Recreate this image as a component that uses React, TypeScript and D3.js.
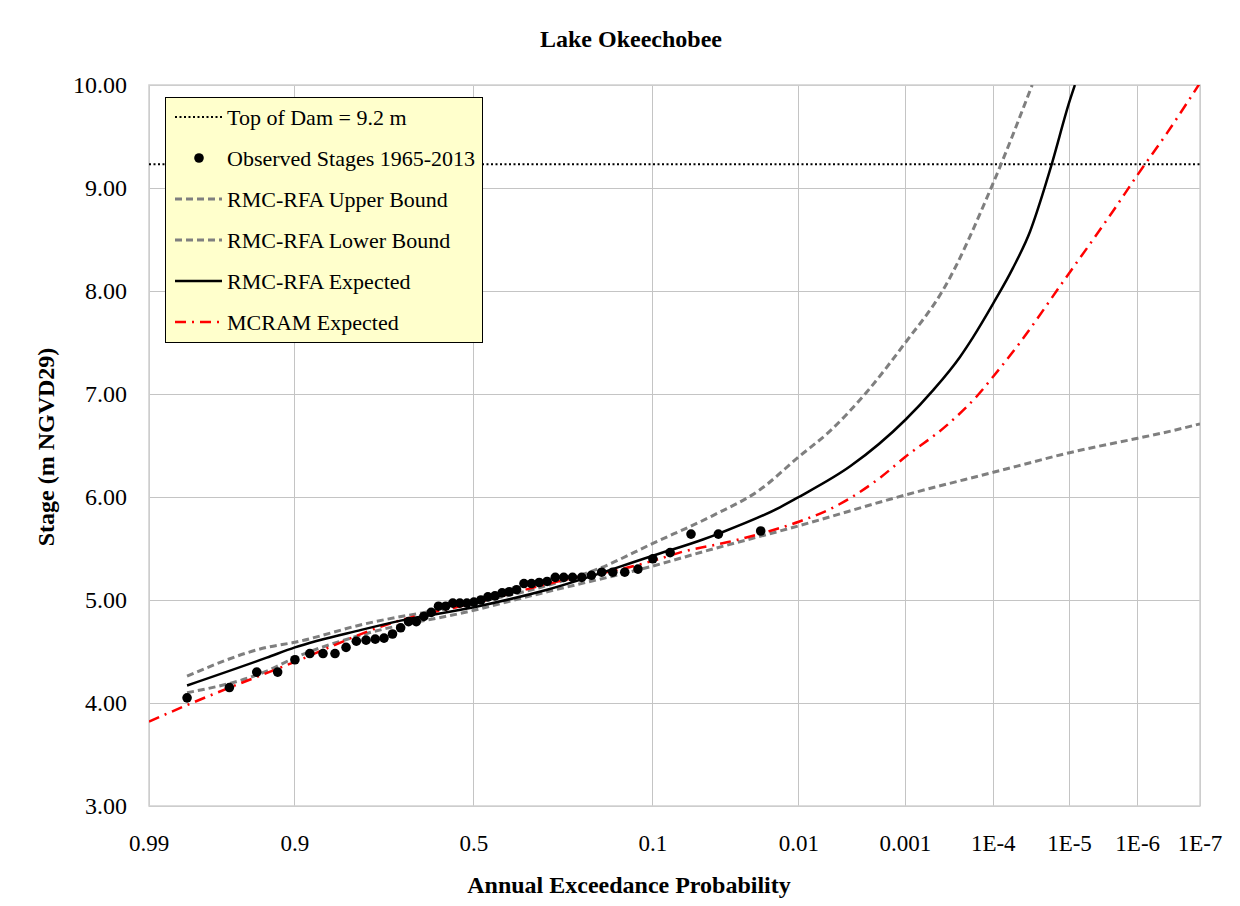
import { useEffect, useRef } from "react";
import * as d3 from "d3";

// x axis: annual exceedance probability (normal probability paper)
const probTicks = [0.99, 0.9, 0.5, 0.1, 0.01, 0.001, 1e-4, 1e-5, 1e-6, 1e-7];
const probTickLabels = ["0.99", "0.9", "0.5", "0.1", "0.01", "0.001", "1E-4", "1E-5", "1E-6", "1E-7"];
const stageTicks = [3, 4, 5, 6, 7, 8, 9, 10];

const topOfDam = 9.23;

// observed annual peak stages 1965-2013, plotted at their exceedance probabilities
const obsProb = [
  0.98, 0.96, 0.94, 0.92, 0.9, 0.88, 0.86, 0.84, 0.82, 0.8, 0.78, 0.76, 0.74, 0.72, 0.7, 0.68, 0.66,
  0.64, 0.62, 0.6, 0.58, 0.56, 0.54, 0.52, 0.5, 0.48, 0.46, 0.44, 0.42, 0.4, 0.38, 0.36, 0.34, 0.32,
  0.3, 0.28, 0.26, 0.24, 0.22, 0.2, 0.18, 0.16, 0.14, 0.12, 0.1, 0.08, 0.06, 0.04, 0.02,
];
const obsStage = [
  4.05, 4.15, 4.3, 4.3, 4.42, 4.48, 4.48, 4.48, 4.54, 4.6, 4.61, 4.62, 4.63, 4.67, 4.73, 4.79, 4.79,
  4.84, 4.88, 4.94, 4.94, 4.97, 4.97, 4.97, 4.98, 5.0, 5.03, 5.04, 5.07, 5.08, 5.1, 5.16, 5.16, 5.17,
  5.18, 5.22, 5.22, 5.22, 5.22, 5.24, 5.27, 5.27, 5.27, 5.3, 5.4, 5.46, 5.64, 5.64, 5.67,
];

// RMC-RFA upper bound
const upperProb = [0.98, 0.931, 0.9, 0.79, 0.5, 0.3, 0.183, 0.1, 0.0435, 0.0203, 0.01, 0.0054, 0.00245, 0.001, 0.00039, 0.0001, 0.000032];
const upperStage = [4.26, 4.54, 4.59, 4.76, 4.97, 5.14, 5.31, 5.55, 5.82, 6.07, 6.39, 6.64, 7.02, 7.5, 8.01, 9.05, 10.0];

// RMC-RFA lower bound
const lowerProb = [0.98, 0.931, 0.9, 0.79, 0.5, 0.3, 0.1, 0.05, 0.01, 0.001, 0.0001, 0.00005, 0.00001, 0.000004, 0.000001, 0.0000003, 0.0000001];
const lowerStage = [4.1, 4.31, 4.44, 4.66, 4.9, 5.08, 5.33, 5.47, 5.72, 6.02, 6.24, 6.3, 6.43, 6.49, 6.57, 6.64, 6.71];

// RMC-RFA expected
const expProb = [
  0.98, 0.931, 0.9, 0.79, 0.7, 0.5, 0.3, 0.1, 0.05, 0.039, 0.0142, 0.01, 0.0035, 0.001, 0.0005, 0.00025,
  0.000176, 0.0001, 0.000057, 0.000034, 0.0000217, 0.0000174, 0.0000099, 0.0000084,
];
const expStage = [
  4.17, 4.44, 4.54, 4.71, 4.8, 4.93, 5.1, 5.43, 5.59, 5.65, 5.9, 6.0, 6.3, 6.75, 7.04, 7.36, 7.55, 7.88,
  8.22, 8.58, 9.01, 9.24, 9.85, 10.0,
];

// MCRAM expected
const mcramProb = [
  0.99, 0.98, 0.9, 0.72, 0.5, 0.23, 0.153, 0.1, 0.067, 0.035, 0.017, 0.01, 0.005, 0.0018, 0.001,
  0.00035, 0.00015, 0.0001, 0.000046, 0.000012, 0.0000024, 0.000001, 0.00000035, 0.0000001,
];
const mcramStage = [
  3.82, 3.98, 4.4, 4.78, 4.97, 5.22, 5.29, 5.38, 5.47, 5.56, 5.67, 5.76, 5.9, 6.19, 6.39, 6.7, 7.0,
  7.17, 7.5, 8.1, 8.77, 9.13, 9.53, 10.02,
];

// inverse standard normal CDF (Acklam)
function qnorm(p: number): number {
  const a = [-3.969683028665376e1, 2.209460984245205e2, -2.759285104469687e2, 1.38357751867269e2, -3.066479806614716e1, 2.506628277459239];
  const b = [-5.447609879822406e1, 1.615858368580409e2, -1.556989798598866e2, 6.680131188771972e1, -1.328068155288572e1];
  const c = [-7.784894002430293e-3, -3.223964580411365e-1, -2.400758277161838, -2.549732539343734, 4.374664141464968, 2.938163982698783];
  const d = [7.784695709041462e-3, 3.224671290700398e-1, 2.445134137142996, 3.754408661907416];
  const plow = 0.02425;
  if (p < plow) {
    const q = Math.sqrt(-2 * Math.log(p));
    return (((((c[0] * q + c[1]) * q + c[2]) * q + c[3]) * q + c[4]) * q + c[5]) / ((((d[0] * q + d[1]) * q + d[2]) * q + d[3]) * q + 1);
  }
  if (p <= 1 - plow) {
    const q = p - 0.5;
    const r = q * q;
    return ((((((a[0] * r + a[1]) * r + a[2]) * r + a[3]) * r + a[4]) * r + a[5]) * q) / (((((b[0] * r + b[1]) * r + b[2]) * r + b[3]) * r + b[4]) * r + 1);
  }
  const q = Math.sqrt(-2 * Math.log(1 - p));
  return -(((((c[0] * q + c[1]) * q + c[2]) * q + c[3]) * q + c[4]) * q + c[5]) / ((((d[0] * q + d[1]) * q + d[2]) * q + d[3]) * q + 1);
}
const zOf = (p: number) => -qnorm(p);

const serif = "'Liberation Serif', 'Times New Roman', serif";

export default function App() {
  const ref = useRef<SVGSVGElement>(null);

  useEffect(() => {
    const svg = d3.select(ref.current);
    svg.selectAll("*").remove();
    const left = 149, right = 1200, top = 85, bottom = 806;

    const x = d3.scaleLinear().domain([zOf(0.99), zOf(1e-7)]).range([left, right]);
    const y = d3.scaleLinear().domain([3, 10]).range([bottom, top]);
    const px = (p: number) => x(zOf(p));

    svg.append("rect").attr("width", 1240).attr("height", 906).attr("fill", "#fff");

    svg.append("defs").append("clipPath").attr("id", "plotClip")
      .append("rect").attr("x", left).attr("y", top).attr("width", right - left).attr("height", bottom - top);

    // grid
    const grid = svg.append("g").attr("stroke", "#c4c4c4").attr("stroke-width", 1).attr("shape-rendering", "crispEdges");
    probTicks.forEach((p) => {
      grid.append("line").attr("x1", px(p)).attr("x2", px(p)).attr("y1", top).attr("y2", bottom);
    });
    stageTicks.forEach((s) => {
      grid.append("line").attr("x1", left).attr("x2", right).attr("y1", y(s)).attr("y2", y(s));
    });
    svg.append("rect").attr("x", left).attr("y", top).attr("width", right - left).attr("height", bottom - top)
      .attr("fill", "none").attr("stroke", "#d0d0d0").attr("stroke-width", 1.5);

    // tick labels
    svg.append("g").selectAll("text").data(stageTicks).join("text")
      .attr("x", 127).attr("y", (d) => y(d)).attr("dy", "0.35em")
      .attr("text-anchor", "end").attr("font-family", serif).attr("font-size", 24)
      .text((d) => d3.format(".2f")(d));
    svg.append("g").selectAll("text").data(probTicks).join("text")
      .attr("x", (d) => px(d)).attr("y", 843).attr("dy", "0.35em")
      .attr("text-anchor", "middle").attr("font-family", serif).attr("font-size", 23)
      .text((_, i) => probTickLabels[i]);

    // titles
    svg.append("text").attr("x", 631).attr("y", 47).attr("text-anchor", "middle")
      .attr("font-family", serif).attr("font-weight", "bold").attr("font-size", 24).text("Lake Okeechobee");
    svg.append("text").attr("x", 629).attr("y", 893).attr("text-anchor", "middle")
      .attr("font-family", serif).attr("font-weight", "bold").attr("font-size", 24).text("Annual Exceedance Probability");
    svg.append("text").attr("transform", "translate(54,447) rotate(-90)").attr("text-anchor", "middle")
      .attr("font-family", serif).attr("font-weight", "bold").attr("font-size", 24).text("Stage (m NGVD29)");

    const plot = svg.append("g").attr("clip-path", "url(#plotClip)");

    const line = d3.line<[number, number]>()
      .x((d) => px(d[0])).y((d) => y(d[1])).curve(d3.curveMonotoneX);
    const zip = (ps: number[], ss: number[]) => ps.map((p, i) => [p, ss[i]] as [number, number]);

    // top of dam
    plot.append("line").attr("x1", left).attr("x2", right).attr("y1", y(topOfDam)).attr("y2", y(topOfDam))
      .attr("stroke", "#000").attr("stroke-width", 2).attr("stroke-dasharray", "2,2.5");

    const series = [
      { p: lowerProb, s: lowerStage, color: "#7f7f7f", dash: "7,4", w: 3 },
      { p: upperProb, s: upperStage, color: "#7f7f7f", dash: "7,4", w: 3 },
      { p: mcramProb, s: mcramStage, color: "#ff0000", dash: "11,6,2,6", w: 2.5 },
      { p: expProb, s: expStage, color: "#000", dash: null, w: 2.5 },
    ];
    series.forEach((sr) => {
      plot.append("path").attr("d", line(zip(sr.p, sr.s)))
        .attr("fill", "none").attr("stroke", sr.color).attr("stroke-width", sr.w)
        .attr("stroke-dasharray", sr.dash);
    });

    plot.append("g").selectAll("circle").data(zip(obsProb, obsStage)).join("circle")
      .attr("cx", (d) => px(d[0])).attr("cy", (d) => y(d[1])).attr("r", 4.8).attr("fill", "#000");

    // legend
    const lg = svg.append("g");
    lg.append("rect").attr("x", 165.5).attr("y", 97.5).attr("width", 317).attr("height", 245)
      .attr("fill", "#ffffcc").attr("stroke", "#000").attr("stroke-width", 1);
    const items = [
      { label: "Top of Dam = 9.2 m", kind: "line", color: "#000", dash: "2,2.5", w: 2 },
      { label: "Observed Stages 1965-2013", kind: "dot", color: "#000", dash: null, w: 0 },
      { label: "RMC-RFA Upper Bound", kind: "line", color: "#7f7f7f", dash: "7,4", w: 3 },
      { label: "RMC-RFA Lower Bound", kind: "line", color: "#7f7f7f", dash: "7,4", w: 3 },
      { label: "RMC-RFA Expected", kind: "line", color: "#000", dash: null, w: 2.5 },
      { label: "MCRAM Expected", kind: "line", color: "#ff0000", dash: "11,6,2,6", w: 2.5 },
    ];
    items.forEach((it, i) => {
      const yy = 117 + i * 41;
      if (it.kind === "dot") {
        lg.append("circle").attr("cx", 199).attr("cy", yy).attr("r", 4.8).attr("fill", "#000");
      } else {
        lg.append("line").attr("x1", 175).attr("x2", 222).attr("y1", yy).attr("y2", yy)
          .attr("stroke", it.color).attr("stroke-width", it.w).attr("stroke-dasharray", it.dash);
      }
      lg.append("text").attr("x", 227).attr("y", yy).attr("dy", "0.35em")
        .attr("font-family", serif).attr("font-size", 22).attr("fill", "#000").text(it.label);
    });
  }, []);

  return (
    <div style={{ position: "absolute", left: 0, top: 0 }}>
      <svg ref={ref} width={1240} height={906} />
    </div>
  );
}
